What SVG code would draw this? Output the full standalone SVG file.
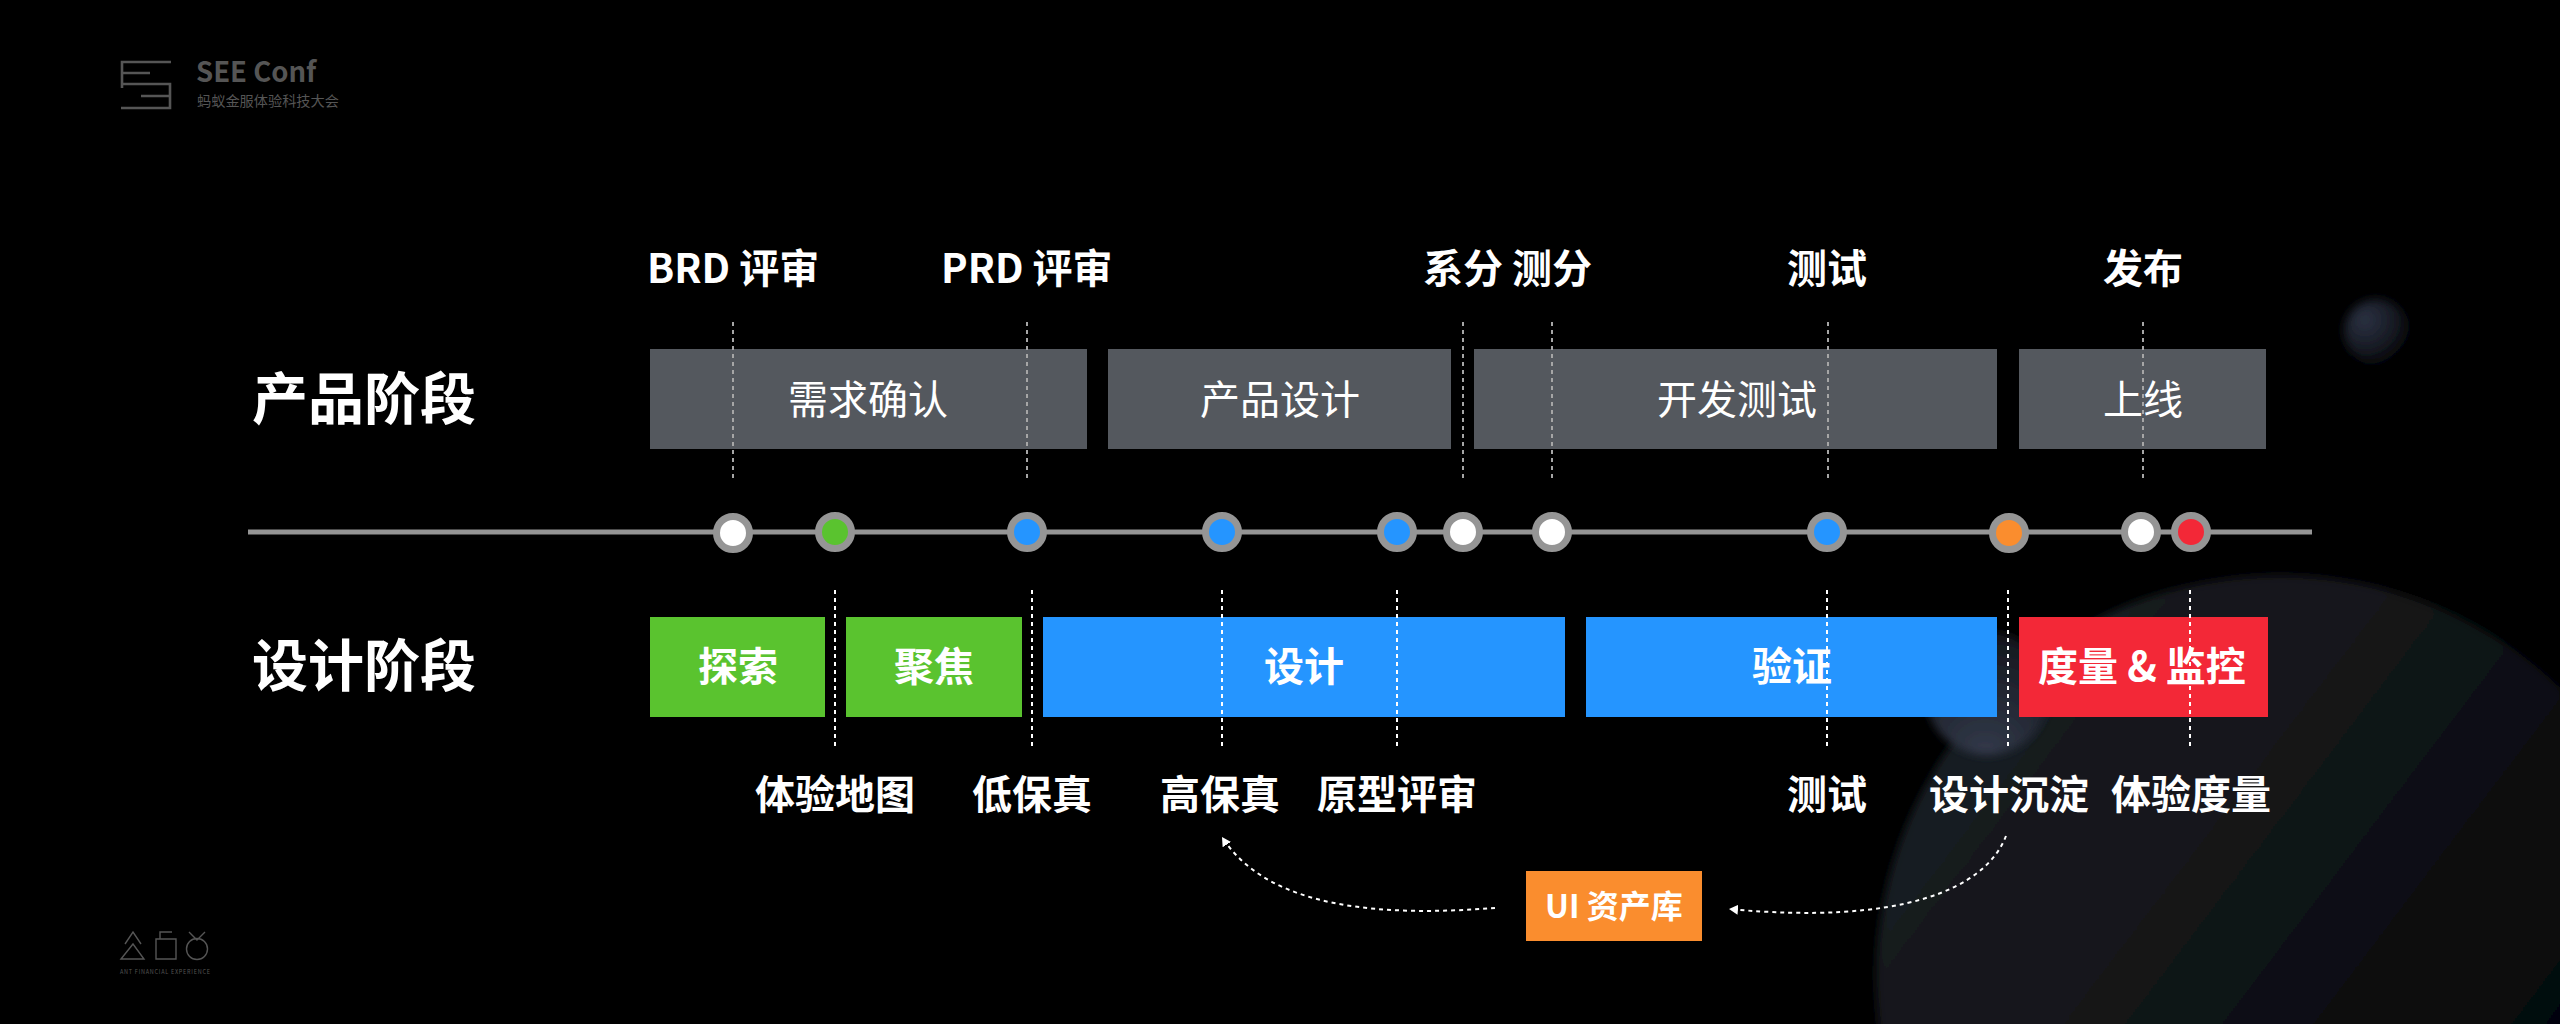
<svg xmlns="http://www.w3.org/2000/svg" width="2560" height="1024" viewBox="0 0 2560 1024">
<style>
text{font-family:"Noto Sans CJK SC","Noto Sans",sans-serif;fill:#fff}
.b{font-weight:700}
.h{font-size:56px;font-weight:700}
.t{font-size:40px;font-weight:700}
.c{text-anchor:middle}
.r{font-size:40px;font-weight:400}
.dt{stroke:#a6a6a6;stroke-width:2;stroke-dasharray:4 4;fill:none}
.db{stroke:#fff;stroke-width:2;stroke-dasharray:4 4;fill:none}
.arc{stroke:#fff;stroke-width:2;stroke-dasharray:4 4;fill:none;marker-end:url(#ah)}
.dot{stroke:#959595;stroke-width:7}
.logo{stroke:#555;stroke-width:2.6;fill:none}
.logo2{stroke:#555;stroke-width:1.4;fill:none}
.gray{fill:#54585e}
</style>
<defs>
<marker id="ah" markerUnits="userSpaceOnUse" markerWidth="12" markerHeight="12" refX="9" refY="5" orient="auto"><path d="M0 0L9 5L0 10Z" fill="#fff"/></marker>
<linearGradient id="big" gradientUnits="userSpaceOnUse" x1="2000" y1="600" x2="2560" y2="1024"><stop offset="0" stop-color="#1a1d23"/><stop offset="0.6" stop-color="#101216"/><stop offset="1" stop-color="#050607"/></linearGradient>
<radialGradient id="small" gradientUnits="userSpaceOnUse" cx="1985" cy="755" r="130"><stop offset="0" stop-color="#333a4b"/><stop offset="1" stop-color="#12141a"/></radialGradient>
<radialGradient id="top" gradientUnits="userSpaceOnUse" cx="2365" cy="320" r="50"><stop offset="0" stop-color="#2b3243"/><stop offset="0.6" stop-color="#161922"/><stop offset="1" stop-color="#000"/></radialGradient>
<filter id="soft" x="-10%" y="-10%" width="120%" height="120%"><feGaussianBlur stdDeviation="4"/></filter>
<filter id="soft2" x="-30%" y="-30%" width="160%" height="160%"><feGaussianBlur stdDeviation="5"/></filter>
</defs>
<rect width="2560" height="1024" fill="#000"/>
<g id="background">
<circle cx="2280" cy="979" r="404" fill="url(#big)" filter="url(#soft)"/>
<circle cx="1987" cy="693" r="62" fill="url(#small)" filter="url(#soft)"/>
<circle cx="2377" cy="332" r="33" fill="url(#top)" filter="url(#soft2)"/>
</g>
<g id="logo-see">
<path class="logo" d="M171 62H122V88M122 73H150M122 84H170V108H121M141 96H170"/>
<text x="196" y="82" font-size="27.500" font-weight="700" style="fill:#555">SEE Conf</text>
<text x="197" y="106" font-size="14.200" style="fill:#555">蚂蚁金服体验科技大会</text>
</g>
<g id="logo-ant">
<path class="logo2" d="M121 959L133 944L144 959ZM125 944L133 932L141 944M156 939H176V959H156ZM160 939V932H172M189 932L197 940L205 932"/>
<circle class="logo2" cx="197" cy="949" r="10.500"/>
<text x="120" y="974" font-size="5.500" letter-spacing="0.75" style="fill:#555">ANT FINANCIAL EXPERIENCE</text>
</g>
<g id="axis"><rect x="248" y="529.500" width="2064" height="5" fill="#959595"/></g>
<g id="product-label"><text class="h" x="252" y="419">产品阶段</text></g>
<g id="design-label"><text class="h" x="252" y="686">设计阶段</text></g>
<g id="p1"><rect class="gray" x="650" y="349" width="437" height="100"/><text class="r c" x="868" y="414">需求确认</text></g>
<g id="p2"><rect class="gray" x="1108" y="349" width="343" height="100"/><text class="r c" x="1280" y="414">产品设计</text></g>
<g id="p3"><rect class="gray" x="1474" y="349" width="523" height="100"/><text class="r c" x="1737" y="414">开发测试</text></g>
<g id="p4"><rect class="gray" x="2019" y="349" width="247" height="100"/><text class="r c" x="2143" y="414">上线</text></g>
<g id="d1"><rect fill="#5ac32f" x="650" y="617" width="175" height="100"/><text class="t c" x="738" y="681">探索</text></g>
<g id="d2"><rect fill="#5ac32f" x="846" y="617" width="176" height="100"/><text class="t c" x="934" y="681">聚焦</text></g>
<g id="d3"><rect fill="#2595ff" x="1043" y="617" width="522" height="100"/><text class="t c" x="1304" y="681">设计</text></g>
<g id="d4"><rect fill="#2595ff" x="1586" y="617" width="411" height="100"/><text class="t c" x="1792" y="681">验证</text></g>
<g id="d5"><rect fill="#f32837" x="2019" y="617" width="249" height="100"/><text class="t c" x="2142" y="681">度量 &amp; 监控</text></g>
<g id="connectors">
<path class="dt" d="M733 322V478M1027 322V478M1463 322V478M1552 322V478M1828 322V478M2143 322V478"/>
<path class="db" d="M835 590V746M1032 590V746M1222 590V746M1397 590V746M1827 590V746M2008 590V746M2190 590V746"/>
<path class="arc" d="M1495 908C1390 916 1270 912 1222 837"/>
<path class="arc" d="M2006 836C1985 890 1900 925 1729 909"/>
</g>
<g id="milestones">
<circle class="dot" cx="733" cy="533" r="16.500" fill="#fff"/>
<circle class="dot" cx="835" cy="532" r="16.500" fill="#5ac32f"/>
<circle class="dot" cx="1027" cy="532" r="16.500" fill="#2595ff"/>
<circle class="dot" cx="1222" cy="532" r="16.500" fill="#2595ff"/>
<circle class="dot" cx="1397" cy="532" r="16.500" fill="#2595ff"/>
<circle class="dot" cx="1463" cy="532" r="16.500" fill="#fff"/>
<circle class="dot" cx="1552" cy="532" r="16.500" fill="#fff"/>
<circle class="dot" cx="1827" cy="532" r="16.500" fill="#2595ff"/>
<circle class="dot" cx="2009" cy="533" r="16.500" fill="#fa8d2e"/>
<circle class="dot" cx="2141" cy="532" r="16.500" fill="#fff"/>
<circle class="dot" cx="2191" cy="532" r="16.500" fill="#f32837"/>
</g>
<g id="top-labels">
<text class="t" x="647" y="283">BRD 评审</text>
<text class="t" x="941" y="283">PRD 评审</text>
<text class="t" x="1423" y="283">系分 测分</text>
<text class="t" x="1787" y="283">测试</text>
<text class="t" x="2103" y="283">发布</text>
</g>
<g id="bottom-labels">
<text class="t" x="755" y="809">体验地图</text>
<text class="t" x="972" y="809">低保真</text>
<text class="t" x="1160" y="809">高保真</text>
<text class="t" x="1317" y="809">原型评审</text>
<text class="t" x="1787" y="809">测试</text>
<text class="t" x="1929" y="809">设计沉淀</text>
<text class="t" x="2111" y="809">体验度量</text>
</g>
<g id="ui-library"><rect fill="#fa8d2e" x="1526" y="871" width="176" height="70"/><text class="c b" x="1614" y="918" font-size="32">UI 资产库</text></g>
</svg>
